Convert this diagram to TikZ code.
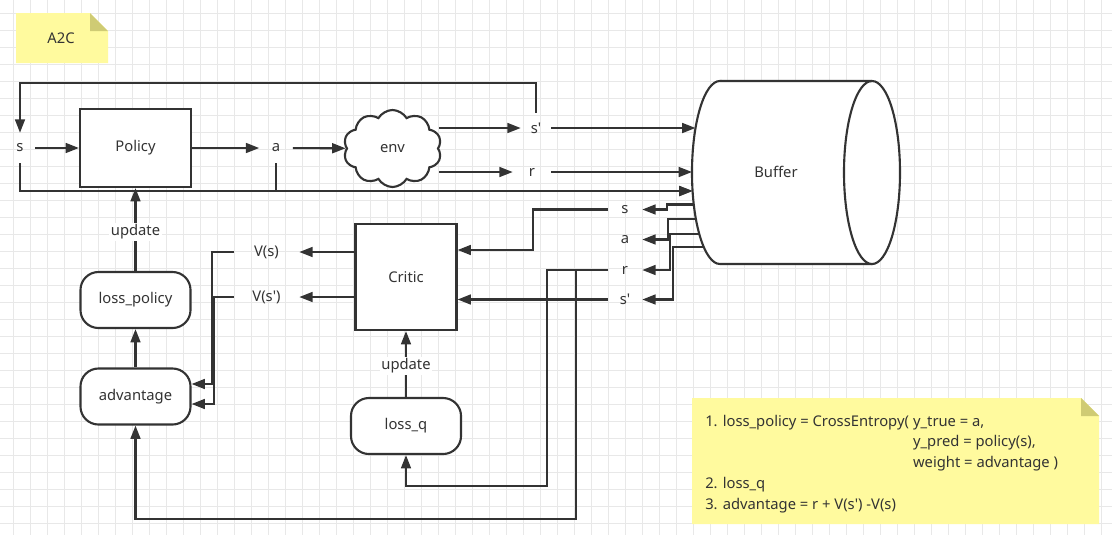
\documentclass[tikz,border=0pt]{standalone}
\usepackage{fontspec}
\setmainfont{Noto Sans}
\usetikzlibrary{arrows.meta,shapes.symbols}
\definecolor{ink}{HTML}{333333}
\definecolor{gridc}{HTML}{E8E8E8}
\definecolor{notey}{HTML}{FFFA9E}
\definecolor{notefold}{HTML}{CFCB74}
\tikzset{
  wire/.style={draw=ink, line width=1.5pt},
  block/.style={wire, fill=white, inner sep=0pt},
  pill/.style={wire, fill=white, rounded corners=0.45cm, minimum width=2.75cm, minimum height=1.4cm},
  lbl/.style={inner sep=0pt, minimum width=0.75cm, minimum height=0.75cm},
  upd/.style={fill=white, inner sep=1pt},
}
\begin{document}
\begin{tikzpicture}[x=0.025cm, y=-0.025cm, >={Triangle[length=9.5pt,width=7pt]},
  font=\fontsize{10.5}{12.6}\selectfont, text=ink]
\useasboundingbox (0,0) rectangle (1112,535);
\fill[white] (0,0) rectangle (1112,535);
\foreach \g in {13,30,...,1112}
  \draw[gridc, line width=0.6pt] (\g,0) -- (\g,535);
\foreach \g in {13,30,...,535}
  \draw[gridc, line width=0.6pt] (0,\g) -- (1112,\g);

% notes
\fill[notey] (16,13) -- (90,13) -- (108,31) -- (108,63) -- (16,63) -- cycle;
\fill[notefold] (90,13) -- (108,31) -- (90,31) -- cycle;
\node (title) at (61,38) {A2C};
\fill[notey] (692,398) -- (1081,398) -- (1099,416) -- (1099,524) -- (692,524) -- cycle;
\fill[notefold] (1081,398) -- (1099,416) -- (1081,416) -- cycle;
\node (memo) [anchor=west, inner sep=0pt] at (705,463.5) {\renewcommand{\arraystretch}{1.17}%
  \begin{tabular}{@{}l@{}l@{}}
  1. loss\_policy = CrossEntropy(\kern0.28em & y\_true = a,\\
   & y\_pred = policy(s),\\
   & weight = advantage )\\
  \multicolumn{2}{@{}l}{2. loss\_q}\\
  \multicolumn{2}{@{}l}{3. advantage = r + V(s\textquotesingle) -V(s)}
  \end{tabular}};

% buffer
\draw[wire, fill=white] (720,81) -- (872,81)
  arc[start angle=90, end angle=-90, x radius=0.7cm, y radius=2.2875cm] -- (720,264)
  arc[start angle=270, end angle=90, x radius=0.7cm, y radius=2.2875cm] -- cycle;
\draw[wire] (872,81) arc[start angle=90, end angle=270, x radius=0.7cm, y radius=2.2875cm];
\node (buffer) at (776,172) {Buffer};
\coordinate (bin1) at (695.5,128);
\coordinate (bin2) at (692,172);
\coordinate (bin3) at (692.5,191);
\coordinate (bo1) at (693.7,204.5);
\coordinate (bo2) at (695.9,219.3);
\coordinate (bo3) at (699.3,234);
\coordinate (bo4) at (703.6,246.7);

% boxes
\node (policy) [block, minimum width=2.775cm, minimum height=1.95cm] at (135.5,148) {Policy};
\node (critic) [block, minimum width=2.525cm, minimum height=2.65cm] at (406,277) {Critic};
\node (lossp) [pill] at (135.5,300) {loss\_policy};
\node (adv) [pill] at (135.5,396.5) {advantage};
\node (lossq) [pill] at (406,426) {loss\_q};
\node (env) [cloud, wire, fill=white, cloud puffs=10, cloud puff arc=120, aspect=1.3,
  minimum width=2.45cm, minimum height=1.925cm, inner sep=0pt] at (392.5,148.5) {env};

% labels
\node (s) [lbl] at (20,148) {s};
\node (a) [lbl, minimum width=0.825cm] at (276,148) {a};
\node (sp) [lbl] at (536,128) {s\textquotesingle};
\node (r) [lbl, minimum width=0.95cm] at (532,172) {r};
\node (vs) [lbl, minimum width=1.625cm] at (266.5,252) {V(s)};
\node (vsp) [lbl, minimum width=1.625cm] at (266.5,297) {V(s\textquotesingle)};
\node (bs) [lbl, minimum width=0.85cm] at (625,209.5) {s};
\node (ba) [lbl, minimum width=0.85cm] at (625,239.5) {a};
\node (br) [lbl, minimum width=0.85cm] at (625,270) {r};
\node (bsp) [lbl, minimum width=0.85cm] at (625,299.5) {s\textquotesingle};

% acting
\draw[wire, ->] (s) -- (policy);
\draw[wire, ->] (policy) -- (a);
\draw[wire, ->] (a) -- (env);
\draw[wire, ->] (env.east |- sp) -- (sp);
\draw[wire, ->] (env.east |- r) -- (r);
\draw[wire, ->] (sp) -- (bin1);
\draw[wire, ->] (r) -- (bin2);
\draw[wire, ->] (sp.north) -- ++(0,-30) -| (s.north);
\draw[wire, ->] (s.south) |- (bin3);
\draw[wire, ->] (a.south) |- (bin3);

% learning
\draw[wire, ->] (bo1) -- (667,204.5) |- (bs);
\draw[wire, ->] (bo2) -- (668,219.3) |- (ba);
\draw[wire, ->] (bo3) -- (670,234) |- (br);
\draw[wire, ->] (bo4) -- (673,246.7) |- (bsp);
\coordinate (cs) at (533,250);
\draw[wire, ->] (bs) -| (cs) -- (critic.east |- cs);
\draw[wire, ->] (bsp) -- (critic.east |- bsp);
\draw[wire, ->] (critic.west |- vs) -- (vs);
\draw[wire, ->] (critic.west |- vsp) -- (vsp);
\coordinate (av1) at (212,384);
\coordinate (av2) at (214,404);
\draw[wire, ->] (vs) -| (av1) -- (adv.east |- av1);
\draw[wire, ->] (vsp) -| (av2) -- (adv.east |- av2);
\draw[wire, ->] (br) -| (547,486) -| (lossq);
\draw[wire, ->] (br) -| (576,519) -| (adv);
\draw[wire, ->] (adv) -- (lossp);
\draw[wire, ->] (lossp) -- node[upd, pos=0.47] {update} (policy);
\draw[wire, ->] (lossq) -- node[upd, pos=0.47] {update} (critic);

\end{tikzpicture}
\end{document}
